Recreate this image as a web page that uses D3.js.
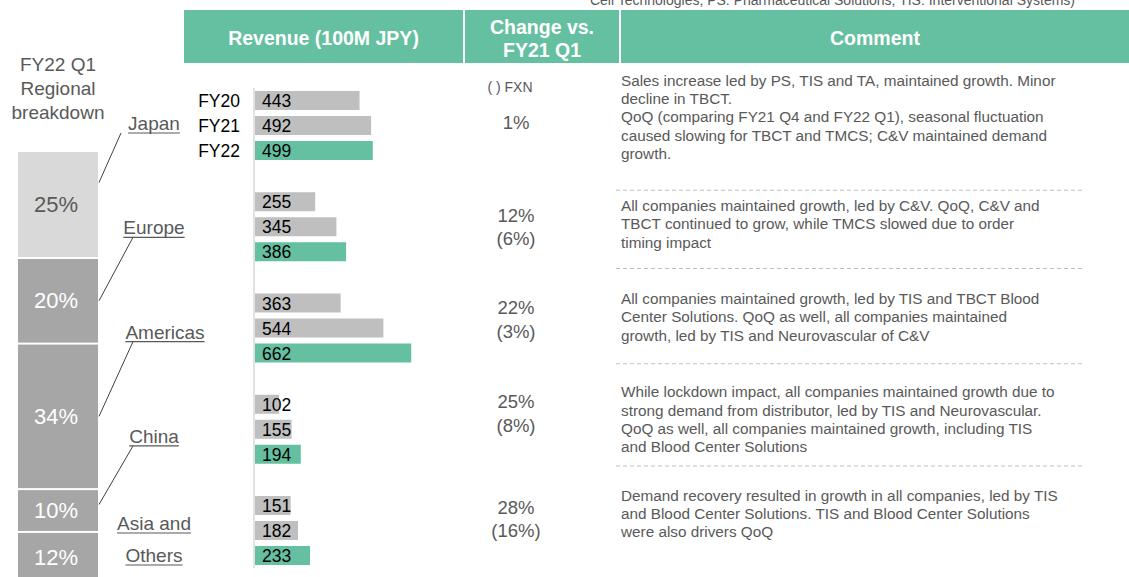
<!DOCTYPE html>
<html>
<head>
<meta charset="utf-8">
<script src="https://cdn.jsdelivr.net/npm/d3@7"></script>
<style>
  body { margin: 0; background: #fff; }
  svg { display: block; font-family: "Liberation Sans", Arial, sans-serif; }
</style>
</head>
<body>
<div id="chart"></div>
<script>
// ---- data ----
var regions = ["Japan", "Europe", "Americas", "China", "Asia and Others"];
var years = ["FY20", "FY21", "FY22"];
var fy20 = [443, 255, 363, 102, 151];
var fy21 = [492, 345, 544, 155, 182];
var fy22 = [499, 386, 662, 194, 233];
var shares = [25, 20, 34, 10, 12];
var changeAll = ["1%", "12%", "22%", "25%", "28%"];
var changeFxn = ["", "(6%)", "(3%)", "(8%)", "(16%)"];
var headers = ["Revenue (100M JPY)", "Change vs.|FY21 Q1", "Comment"];
var comments = [
    ["Sales increase led by PS, TIS and TA, maintained growth. Minor",
     "decline in TBCT.",
     "QoQ (comparing FY21 Q4 and FY22 Q1), seasonal fluctuation",
     "caused slowing for TBCT and TMCS; C&V maintained demand",
     "growth."],
    ["All companies maintained growth, led by C&V. QoQ, C&V and",
     "TBCT continued to grow, while TMCS slowed due to order",
     "timing impact"],
    ["All companies maintained growth, led by TIS and TBCT Blood",
     "Center Solutions. QoQ as well, all companies maintained",
     "growth, led by TIS and Neurovascular of C&V"],
    ["While lockdown impact, all companies maintained growth due to",
     "strong demand from distributor, led by TIS and Neurovascular.",
     "QoQ as well, all companies maintained growth, including TIS",
     "and Blood Center Solutions"],
    ["Demand recovery resulted in growth in all companies, led by TIS",
     "and Blood Center Solutions. TIS and Blood Center Solutions",
     "were also drivers QoQ"]
];
var topNote = "Cell Technologies, PS: Pharmaceutical Solutions, TIS: Interventional Systems)";

// ---- layout ----
var width = 1129, height = 577;
var green = "#65c0a1", barGray = "#bfbfbf", textGray = "#595959";

// slide text blocks sit a little off the bar groups, so keep their offsets here
var commentDy = [-11, 13, 5, -3, -1];     // first comment line vs group top
var changeDy = [31, 23, 14, 7, 11];       // change value vs group top
var dividerDy = [-2, -25, -31, -30];      // dashed rule vs next group top
var linkDy = [-22, 0, 0, -6];             // connector start vs segment middle

var svg = d3.select("#chart").append("svg")
    .attr("width", width)
    .attr("height", height);

// Cut-off footnote line at the very top
svg.append("text")
    .attr("x", 1075)
    .attr("y", 5)
    .attr("text-anchor", "end")
    .attr("font-size", 14)
    .attr("fill", textGray)
    .text(topNote);

// Header cells
var headerCells = [[184, 463], [465, 619], [621, 1129]];
headers.forEach(function(h, i) {
    var c = headerCells[i];
    svg.append("rect")
        .attr("x", c[0]).attr("y", 10)
        .attr("width", c[1] - c[0]).attr("height", 53)
        .attr("fill", green);
    var lines = h.split("|");
    lines.forEach(function(line, j) {
        svg.append("text")
            .attr("x", (c[0] + c[1]) / 2)
            .attr("y", lines.length == 1 ? 45 : 34 + j * 23)
            .attr("text-anchor", "middle")
            .attr("font-size", 19.5)
            .attr("font-weight", "bold")
            .attr("fill", "#fff")
            .text(line);
    });
});

// Left title
["FY22 Q1", "Regional", "breakdown"].forEach(function(t, i) {
    svg.append("text")
        .attr("x", 58).attr("y", 71 + i * 24)
        .attr("text-anchor", "middle")
        .attr("font-size", 19)
        .attr("fill", textGray)
        .text(t);
});

// Stacked share column
var yShare = d3.scaleLinear().domain([0, 100]).range([151, 579]);
var cum = 0;
var segs = shares.map(function(s, i) {
    var seg = { region: regions[i], value: s, y0: cum, y1: cum + s };
    cum += s;
    return seg;
});

svg.selectAll("rect.share").data(segs).enter().append("rect")
    .attr("class", "share")
    .attr("x", 18)
    .attr("y", function(d) { return yShare(d.y0) + 1; })
    .attr("width", 80)
    .attr("height", function(d) { return yShare(d.y1) - yShare(d.y0) - 2; })
    .attr("fill", function(d, i) { return i == 0 ? "#d9d9d9" : "#a6a6a6"; });

svg.selectAll("text.share").data(segs).enter().append("text")
    .attr("class", "share")
    .attr("x", 56)
    .attr("y", function(d) { return (yShare(d.y0) + yShare(d.y1)) / 2 + 7.5; })
    .attr("text-anchor", "middle")
    .attr("font-size", 22)
    .attr("fill", function(d, i) { return i == 0 ? textGray : "#fff"; })
    .text(function(d) { return d.value + "%"; });

// Bar groups
var yGroup = d3.scaleBand().domain(regions).range([91, 91 + 5 * 101.25]);
var yYear = d3.scaleBand().domain(years).range([0, 69]).paddingInner(0.24);
var x = d3.scaleLinear().domain([0, 700]).range([255, 255 + 700 * 0.236]);

var barData = [];
regions.forEach(function(r, i) {
    [fy20[i], fy21[i], fy22[i]].forEach(function(v, j) {
        barData.push({ region: r, year: years[j], value: v });
    });
});

svg.selectAll("rect.bar").data(barData).enter().append("rect")
    .attr("class", "bar")
    .attr("x", x(0))
    .attr("y", function(d) { return yGroup(d.region) + yYear(d.year); })
    .attr("width", function(d) { return x(d.value) - x(0); })
    .attr("height", yYear.bandwidth())
    .attr("fill", function(d) { return d.year == "FY22" ? green : barGray; });

svg.selectAll("text.bar").data(barData).enter().append("text")
    .attr("class", "bar")
    .attr("x", x(0) + 7)
    .attr("y", function(d) { return yGroup(d.region) + yYear(d.year) + yYear.bandwidth() / 2 + 6.5; })
    .attr("font-size", 17.5)
    .attr("fill", "#000")
    .text(function(d) { return d.value; });

// Year labels only on the first group
years.forEach(function(yr) {
    svg.append("text")
        .attr("x", 240)
        .attr("y", yGroup(regions[0]) + yYear(yr) + yYear.bandwidth() / 2 + 6.5)
        .attr("text-anchor", "end")
        .attr("font-size", 17.5)
        .attr("fill", "#000")
        .text(yr);
});

// Vertical baseline
svg.append("line")
    .attr("x1", x(0) - 1).attr("x2", x(0) - 1)
    .attr("y1", 88).attr("y2", 568)
    .attr("stroke", "#d9d9d9")
    .attr("stroke-width", 1.5);

// Region labels with connectors
function labelX(r) { return r == "Americas" ? 165 : 154; }
var labelLines = regions.map(function(r) { return r == "Asia and Others" ? ["Asia and", "Others"] : [r]; });
labelLines.forEach(function(lines, i) {
    lines.forEach(function(t, j) {
        var base = (i < 4 ? 130 + i * 104.3 : 530) + j * 32;
        var cx = labelX(regions[i]);
        var txt = svg.append("text")
            .attr("x", cx).attr("y", base)
            .attr("text-anchor", "middle")
            .attr("font-size", 19)
            .attr("fill", textGray)
            .text(t);
        var w = txt.node().getComputedTextLength();
        svg.append("line")
            .attr("x1", cx - w / 2).attr("x2", cx + w / 2)
            .attr("y1", base + 3).attr("y2", base + 3)
            .attr("stroke", textGray).attr("stroke-width", 1.2);
        if (i < 4 && j == 0) {
            var s = segs[i];
            svg.append("line")
                .attr("x1", 99)
                .attr("y1", (yShare(s.y0) + yShare(s.y1)) / 2 + linkDy[i])
                .attr("x2", i == 0 ? 121 : 133)
                .attr("y2", base + 3)
                .attr("stroke", "#404040")
                .attr("stroke-width", 1);
        }
    });
});

// Change column
svg.append("text")
    .attr("x", 510).attr("y", 92)
    .attr("text-anchor", "middle")
    .attr("font-size", 14)
    .attr("fill", textGray)
    .text("( ) FXN");

regions.forEach(function(r, i) {
    var top = yGroup(r) + changeDy[i];
    svg.append("text")
        .attr("x", 516).attr("y", top + 6.5)
        .attr("text-anchor", "middle")
        .attr("font-size", 18.5)
        .attr("fill", textGray)
        .text(changeAll[i]);
    if (changeFxn[i]) {
        svg.append("text")
            .attr("x", 516).attr("y", top + 30)
            .attr("text-anchor", "middle")
            .attr("font-size", 18.5)
            .attr("fill", textGray)
            .text(changeFxn[i]);
    }
});

// Comments
comments.forEach(function(lines, i) {
    var top = yGroup(regions[i]) + commentDy[i];
    lines.forEach(function(t, j) {
        svg.append("text")
            .attr("x", 621)
            .attr("y", top + 5.5 + j * 18.4)
            .attr("font-size", 15.3)
            .attr("fill", textGray)
            .text(t);
    });
});

// Dashed dividers
dividerDy.forEach(function(dy, i) {
    var yy = yGroup(regions[i + 1]) + dy;
    svg.append("line")
        .attr("x1", 616).attr("x2", 1082)
        .attr("y1", yy).attr("y2", yy)
        .attr("stroke", "#bfbfbf")
        .attr("stroke-width", 1)
        .attr("stroke-dasharray", "4,3");
});
</script>
</body>
</html>
